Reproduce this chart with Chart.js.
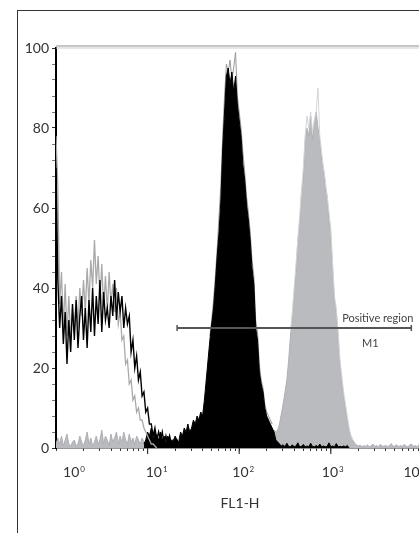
<!DOCTYPE html>
<html>
<head>
<meta charset="utf-8">
<script src="https://cdn.jsdelivr.net/npm/chart.js@4.4.1/dist/chart.umd.min.js"></script>
<style>
  html, body { margin: 0; padding: 0; background: #fff; overflow: hidden; width: 419px; height: 533px; }
  #frame { position: absolute; left: 17px; top: 10px; width: 700px; height: 700px; border: 1px solid #333; }
  #chart { position: absolute; left: 0; top: 0; }
</style>
</head>
<body>
<div id="frame"></div>
<canvas id="chart" width="445" height="533"></canvas>
<script>
// histogram channels: 50 bins per decade, from 10^0 to 10^4
const binsPerDecade = 50;
const decades = [1, 10, 100, 1000, 10000];
const decadeExponents = ["0", "1", "2", "3", "4"];
const minorSteps = [1, 2, 3, 4, 5, 6, 7, 8, 9];

// unstained control, black outline (starts at bin 0)
const controlBlackStart = 0;
const controlBlack = [
  70, 42, 30, 38, 26, 34, 21, 32, 24, 36,
  27, 37, 25, 33, 38, 27, 35, 25, 37, 29,
  40, 28, 38, 31, 42, 29, 39, 32, 35, 30,
  38, 33, 42, 32, 39, 34, 38, 30, 35, 31,
  33, 24, 27, 20, 23, 17, 19, 13, 14, 9,
  10, 6, 6, 3, 5, 2, 4, 2, 4, 1,
  3, 1, 3, 1, 2, 1, 2, 1, 0.5, 1,
  0.5, 0.3, 0
];

// unstained control, grey outline (starts at bin 0)
const controlGreyStart = 0;
const controlGrey = [
  78, 65, 36, 44, 30, 41, 28, 38, 27, 35,
  29, 38, 30, 40, 33, 42, 34, 45, 36, 47,
  40, 52, 41, 48, 37, 46, 35, 43, 34, 44,
  36, 41, 34, 40, 31, 34, 27, 28, 21, 22,
  16, 17, 12, 13, 9, 10, 7, 7, 5, 4,
  3, 2, 1, 1, 0.5, 0
];

// stained sample, black filled (starts at bin 48)
const stainedBlackStart = 48;
const stainedBlack = [
  1, 2, 4, 3, 5, 2, 4, 3, 2, 4,
  2, 3, 1, 3, 2, 2, 1, 3, 2, 1.5,
  4, 3, 5, 4, 6, 4, 5, 7, 6, 8,
  7, 9, 8, 12, 17, 22, 27, 31, 35, 41,
  48, 54, 62, 75, 84, 93, 95, 91, 94, 89,
  93, 86, 82, 78, 71, 67, 61, 57, 52, 45,
  41, 30, 27, 19, 16, 14, 10, 8, 7, 6,
  5, 4, 2, 1.5, 1, 0.5, 0.8, 0.3, 1.2, 0.4,
  0.3, 0.8, 0.3, 0.5, 1.3, 0.3, 0.4, 0.9, 0.3, 0.5,
  0.3, 1.2, 0.4, 0.3, 0.6, 0.3, 1, 0.3, 0.5, 0.3,
  0.4, 1.3, 0.3, 0.5, 0.3, 1.1, 0.3, 0.4, 0.3, 0.5,
  0.3, 0.6, 0
];

// replicate of the stained sample, grey outline (starts at bin 84)
const stainedOutlineStart = 84;
const stainedOutline = [
  28, 32, 37, 43, 50, 58, 66, 78, 88, 96,
  94, 97, 92, 95, 99, 88, 84, 80, 74, 69,
  63, 59, 54, 47, 43, 32, 29, 21, 17, 15,
  11, 9, 8, 7, 6
];

// positive sample, grey filled (starts at bin 0)
const positiveGreyStart = 0;
const positiveGrey = [
  1, 2.5, 1, 3, 0.5, 2, 3.5, 1, 0.5, 1.5,
  2, 0.5, 1, 3, 1.5, 0.5, 2, 4, 1, 2.5,
  0.5, 1.5, 3, 1, 2, 4.5, 1, 3, 2, 0.5,
  3.5, 1.5, 2.5, 4, 1, 3, 1.5, 4, 2, 1,
  3.5, 1.5, 2.5, 1, 3, 2, 1, 2.5, 1.5, 0.5,
  1, 0.5, 1, 0.3, 0.8, 1.2, 0.4, 0.6, 1, 0.3,
  0.5, 0.8, 0.4, 1, 0.6, 0.3, 0.7, 0.5, 0.9, 0.4,
  0.6, 0.3, 0.8, 0.5, 0.4, 0.7, 0.3, 0.6, 0.5, 0.8,
  0.4, 0.6, 0.3, 0.5, 0.7, 0.4, 0.6, 0.5, 0.3, 0.8,
  0.5, 0.4, 0.6, 0.3, 0.7, 0.5, 0.4, 0.6, 0.8, 0.5,
  0.7, 0.4, 0.6, 0.9, 0.5, 0.7, 1, 0.6, 0.8, 0.5,
  1, 0.8, 1.2, 1.5, 2, 2.5, 3, 3.5, 4, 4.5,
  4, 4.5, 6, 8.5, 11, 14, 17, 22, 28, 33,
  39, 44, 52, 56, 64, 68, 77, 80, 78, 83,
  77, 81, 84, 80, 77, 72, 70, 65, 63, 57,
  53, 45, 37, 34, 28, 21, 17, 13, 10, 7,
  4.5, 3, 2, 1.2, 0.8, 0.5, 0.7, 0.3, 0.6, 0.4,
  0.8, 0.3, 0.5, 1, 0.4, 0.6, 0.3, 0.9, 0.5, 0.4,
  0.7, 0.3, 0.6, 1.1, 0.4, 0.5, 0.8, 0.3, 0.6, 0.4,
  0.9, 0.5, 0.3, 0.7, 1, 0.4, 0.6, 0.3, 0.8, 0.5,
  0.4
];

// replicate of the positive sample, light outline (starts at bin 128)
const positiveOutlineStart = 128;
const positiveOutline = [
  29, 34, 40, 46, 52, 58, 64, 70, 78, 83,
  80, 84, 79, 82, 84, 90, 78, 74, 70, 67,
  63, 59, 55, 46, 38, 35, 29, 22, 18, 14,
  11, 8, 5, 3, 2
];

// marker M1
const markerFrom = 21;
const markerTo = 7570;
const markerLevel = 30;

function toPoints(values, startBin) {
  return values.map((v, k) => ({ x: Math.pow(10, (startBin + k) / binsPerDecade), y: v }));
}

const labelShift = [18, 9, 4, 2, -8];

const overlay = {
  id: "overlay",
  afterDatasetsDraw(chart) {
    const { ctx, chartArea } = chart;
    const x = chart.scales.x;
    const y = chart.scales.y;
    ctx.save();

    // plot top edge
    ctx.strokeStyle = "#8e8e8e";
    ctx.lineWidth = 1.2;
    ctx.beginPath();
    ctx.moveTo(chartArea.left, chartArea.top - 2);
    ctx.lineTo(chartArea.right + 30, chartArea.top - 2);
    ctx.stroke();
    ctx.strokeStyle = "#cfcfcf";
    ctx.lineWidth = 1;
    ctx.beginPath();
    ctx.moveTo(chartArea.left, chartArea.top);
    ctx.lineTo(chartArea.right + 30, chartArea.top);
    ctx.stroke();

    // marker M1
    const x0 = x.getPixelForValue(markerFrom);
    const x1 = x.getPixelForValue(markerTo);
    const my = y.getPixelForValue(markerLevel);
    ctx.strokeStyle = "#555";
    ctx.lineWidth = 2;
    ctx.beginPath();
    ctx.moveTo(x0, my);
    ctx.lineTo(x1, my);
    ctx.stroke();
    ctx.lineWidth = 1.5;
    ctx.beginPath();
    ctx.moveTo(x0, my - 3);
    ctx.lineTo(x0, my + 3);
    ctx.moveTo(x1, my - 3);
    ctx.lineTo(x1, my + 3);
    ctx.stroke();
    ctx.fillStyle = "#444";
    ctx.font = "11px Lato";
    ctx.textAlign = "right";
    ctx.textBaseline = "alphabetic";
    ctx.fillText("Positive region", x1 + 2, my - 6);
    ctx.textAlign = "center";
    ctx.fillText("M1", x.getPixelForValue(2700), my + 19);
    ctx.restore();
  },
  afterDraw(chart) {
    const { ctx, chartArea } = chart;
    const x = chart.scales.x;
    ctx.save();
    ctx.strokeStyle = "#333";
    ctx.lineWidth = 1.2;
    ctx.fillStyle = "#333";
    ctx.textBaseline = "alphabetic";
    decades.forEach((v, k) => {
      const px = x.getPixelForValue(v);
      if (k > 0) {
        ctx.beginPath();
        ctx.moveTo(px, chartArea.bottom);
        ctx.lineTo(px, chartArea.bottom + 6);
        ctx.stroke();
      }
      ctx.font = "14px Lato";
      const w1 = ctx.measureText("10").width;
      ctx.font = "8px Lato";
      const w2 = ctx.measureText(decadeExponents[k]).width;
      const start = px + labelShift[k] - (w1 + w2 + 1) / 2;
      ctx.textAlign = "left";
      ctx.font = "14px Lato";
      ctx.fillText("10", start, 477);
      ctx.font = "8px Lato";
      ctx.fillText(decadeExponents[k], start + w1 + 1, 472);
    });
    ctx.font = "14px Lato";
    ctx.textAlign = "center";
    ctx.fillText("FL1-H", 240, 508);
    ctx.restore();
  }
};

const ctx = document.getElementById("chart").getContext("2d");
const chart = new Chart(ctx, {
  type: "line",
  data: {
    datasets: [
      {
        label: "Control (black)",
        data: toPoints(controlBlack, controlBlackStart),
        borderColor: "#000",
        borderWidth: 1.4,
        fill: false
      },
      {
        label: "Control (grey)",
        data: toPoints(controlGrey, controlGreyStart),
        borderColor: "#a9a9a9",
        borderWidth: 1.3,
        fill: false
      },
      {
        label: "Stained",
        data: toPoints(stainedBlack, stainedBlackStart),
        borderColor: "#000",
        backgroundColor: "#000",
        borderWidth: 1,
        fill: "origin"
      },
      {
        label: "Stained replicate",
        data: toPoints(stainedOutline, stainedOutlineStart),
        borderColor: "#9a9a9a",
        borderWidth: 1,
        fill: false
      },
      {
        label: "Positive replicate",
        data: toPoints(positiveOutline, positiveOutlineStart),
        borderColor: "#d4d5d8",
        borderWidth: 1,
        fill: false
      },
      {
        label: "Positive",
        data: toPoints(positiveGrey, positiveGreyStart),
        borderColor: "#aeb0b4",
        backgroundColor: "#b9bbbf",
        borderWidth: 1,
        fill: "origin"
      }
    ]
  },
  options: {
    responsive: false,
    animation: false,
    layout: { padding: { top: 48, right: 22.6, left: 0, bottom: 0 } },
    elements: { point: { radius: 0 }, line: { tension: 0 } },
    plugins: { legend: { display: false }, tooltip: { enabled: false } },
    scales: {
      x: {
        type: "logarithmic",
        min: 1,
        max: 10000,
        afterFit(scale) { scale.height = 85; },
        afterBuildTicks(scale) {
          const ticks = [];
          for (let e = 0; e < 4; e++) {
            minorSteps.forEach(m => ticks.push({ value: m * Math.pow(10, e), major: m === 1 }));
          }
          ticks.push({ value: 10000, major: true });
          scale.ticks = ticks;
        },
        ticks: { display: false, autoSkip: false },
        grid: { drawOnChartArea: false, drawTicks: true, tickLength: 3, color: "#333", tickWidth: 1 },
        border: { color: "#333", width: 1.5 }
      },
      y: {
        min: 0,
        max: 100,
        afterFit(scale) { scale.width = 56; },
        ticks: {
          stepSize: 4,
          autoSkip: false,
          padding: 3,
          color: "#333",
          font: { family: "Lato", size: 14 },
          callback: v => (v % 20 === 0 ? v : "")
        },
        grid: {
          drawOnChartArea: false,
          tickLength: 4,
          color: "#333",
          tickColor: c => (c.tick && c.tick.value % 20 === 0 ? "#333" : "#777")
        },
        border: { color: "#000", width: 2 }
      }
    }
  },
  plugins: [overlay]
});
</script>
</body>
</html>
